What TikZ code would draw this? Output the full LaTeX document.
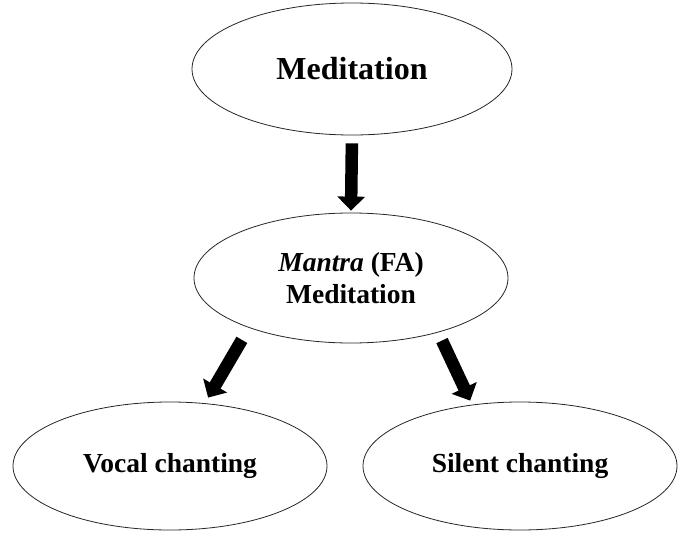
\documentclass[tikz,border=0pt]{standalone}
\usepackage{fontspec}
\setmainfont{Liberation Serif}
\usetikzlibrary{shapes.geometric,arrows.meta}
\tikzset{
  oval/.style={ellipse, draw=black!85, line width=0.8pt, fill=white, inner sep=0pt, align=center, font=\bfseries},
  bigarrow/.style={line width=12.5pt, black, -{Triangle[width=27pt,length=14pt]}}
}
\begin{document}
\begin{tikzpicture}[x=1pt,y=-1pt]
\useasboundingbox (0,0) rectangle (683,533);
\node[oval, minimum width=320pt, minimum height=132pt, font=\bfseries\fontsize{32}{36}\selectfont] (top) at (352,69) {Meditation};
\node[oval, minimum width=314pt, minimum height=130pt, font=\bfseries\fontsize{27.5}{32}\selectfont] (mid) at (351,278) {\textit{Mantra} (FA)\\Meditation};
\node[oval, minimum width=314pt, minimum height=128pt, font=\bfseries\fontsize{27.5}{32}\selectfont] (bl) at (170,466) {Vocal chanting};
\node[oval, minimum width=314pt, minimum height=128pt, font=\bfseries\fontsize{27.5}{32}\selectfont] (br) at (520,466) {Silent chanting};
\draw[bigarrow, shorten <=8pt, shorten >=2pt] (top.south) -- (mid.north);
\draw[bigarrow, shorten <=14pt, shorten >=6.5pt] (mid.206.5) -- (bl.61.7);
\draw[bigarrow, shorten <=9pt, shorten >=4.5pt] (mid.328.7) -- (br.128.4);
\end{tikzpicture}
\end{document}
